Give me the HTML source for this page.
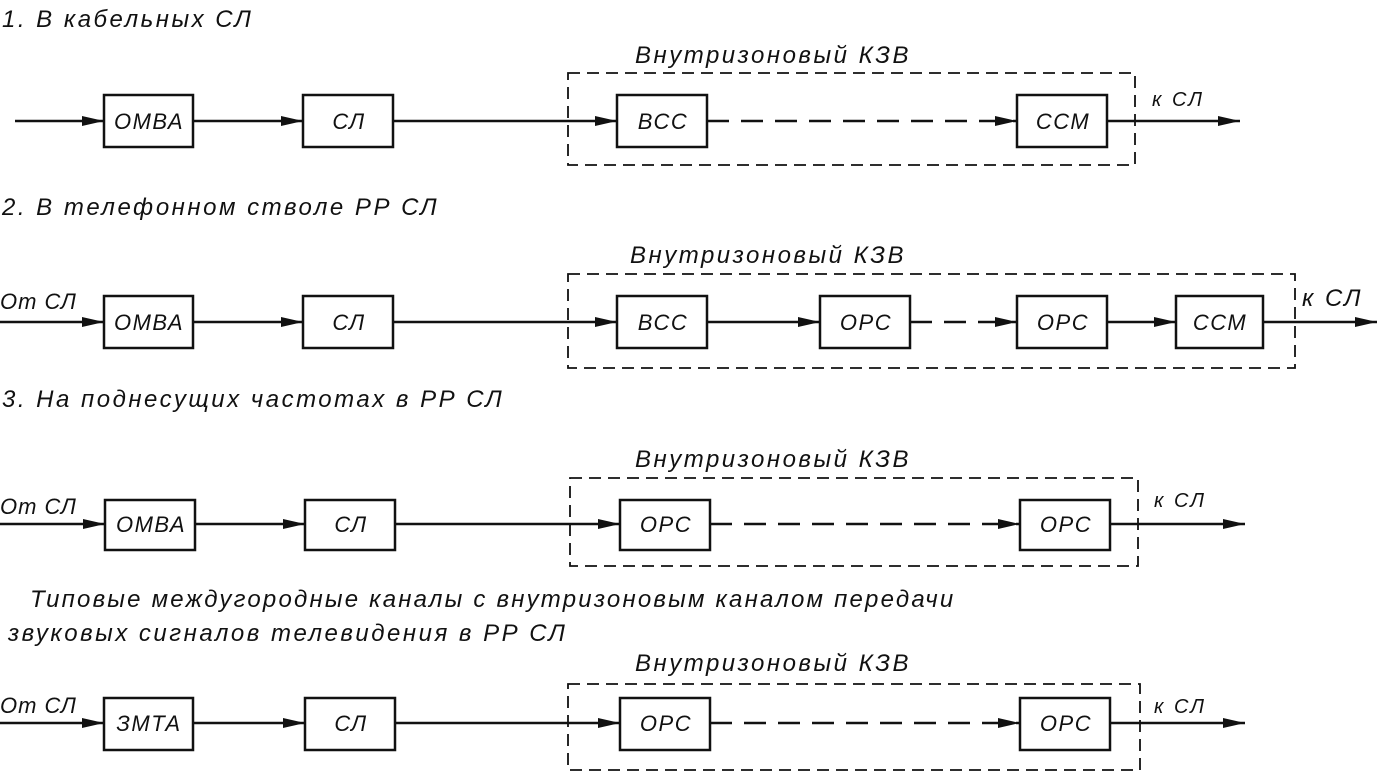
<!DOCTYPE html>
<html><head><meta charset="utf-8"><style>
body{margin:0;background:#fff;}
svg text{font-family:"Liberation Sans","DejaVu Sans",sans-serif;font-style:italic;fill:#111;}
</style></head><body>
<svg width="1377" height="773" viewBox="0 0 1377 773" xmlns="http://www.w3.org/2000/svg">
<defs><marker id="a" markerWidth="22" markerHeight="10" refX="22" refY="5" orient="auto" markerUnits="userSpaceOnUse"><path d="M0,0 L22,5 L0,10 z" fill="#111"/></marker></defs>
<g stroke="#111" stroke-width="2.5" fill="none">
<rect x="568" y="73" width="567" height="92" stroke-dasharray="12,7" stroke-width="1.8"/>
<rect x="104" y="95" width="89" height="52"/><rect x="303" y="95" width="90" height="52"/>
<rect x="617" y="95" width="90" height="52"/><rect x="1017" y="95" width="90" height="52"/>
<line x1="15" y1="121" x2="104" y2="121" marker-end="url(#a)"/>
<line x1="193" y1="121" x2="303" y2="121" marker-end="url(#a)"/>
<line x1="393" y1="121" x2="617" y2="121" marker-end="url(#a)"/>
<line x1="707" y1="121" x2="1017" y2="121" stroke-dasharray="22,12" marker-end="url(#a)"/>
<line x1="1107" y1="121" x2="1240" y2="121" marker-end="url(#a)"/>
<rect x="568" y="274" width="727" height="94" stroke-dasharray="12,7" stroke-width="1.8"/>
<rect x="104" y="296" width="89" height="52"/><rect x="303" y="296" width="90" height="52"/>
<rect x="617" y="296" width="90" height="52"/><rect x="820" y="296" width="90" height="52"/>
<rect x="1017" y="296" width="90" height="52"/><rect x="1176" y="296" width="87" height="52"/>
<line x1="0" y1="322" x2="104" y2="322" marker-end="url(#a)"/>
<line x1="193" y1="322" x2="303" y2="322" marker-end="url(#a)"/>
<line x1="393" y1="322" x2="617" y2="322" marker-end="url(#a)"/>
<line x1="707" y1="322" x2="820" y2="322" marker-end="url(#a)"/>
<line x1="910" y1="322" x2="1017" y2="322" stroke-dasharray="22,12" marker-end="url(#a)"/>
<line x1="1107" y1="322" x2="1176" y2="322" marker-end="url(#a)"/>
<line x1="1263" y1="322" x2="1377" y2="322" marker-end="url(#a)"/>
<rect x="570" y="478" width="568" height="88" stroke-dasharray="12,7" stroke-width="1.8"/>
<rect x="105" y="500" width="90" height="50"/><rect x="305" y="500" width="90" height="50"/>
<rect x="620" y="500" width="90" height="50"/><rect x="1020" y="500" width="90" height="50"/>
<line x1="0" y1="524" x2="105" y2="524" marker-end="url(#a)"/>
<line x1="195" y1="524" x2="305" y2="524" marker-end="url(#a)"/>
<line x1="395" y1="524" x2="620" y2="524" marker-end="url(#a)"/>
<line x1="710" y1="524" x2="1020" y2="524" stroke-dasharray="22,12" marker-end="url(#a)"/>
<line x1="1110" y1="524" x2="1245" y2="524" marker-end="url(#a)"/>
<rect x="568" y="684" width="572" height="86" stroke-dasharray="12,7" stroke-width="1.8"/>
<rect x="104" y="698" width="89" height="52"/><rect x="305" y="698" width="90" height="52"/>
<rect x="620" y="698" width="90" height="52"/><rect x="1020" y="698" width="90" height="52"/>
<line x1="0" y1="723" x2="104" y2="723" marker-end="url(#a)"/>
<line x1="193" y1="723" x2="305" y2="723" marker-end="url(#a)"/>
<line x1="395" y1="723" x2="620" y2="723" marker-end="url(#a)"/>
<line x1="710" y1="723" x2="1020" y2="723" stroke-dasharray="22,12" marker-end="url(#a)"/>
<line x1="1110" y1="723" x2="1245" y2="723" marker-end="url(#a)"/>
</g>
<g font-size="24" letter-spacing="2.5">
<text x="2" y="27">1. В кабельных СЛ</text>
<text x="635" y="63">Внутризоновый КЗВ</text>
<text x="1152" y="106" font-size="20">к СЛ</text>
<text x="2" y="215">2. В телефонном стволе РР СЛ</text>
<text x="630" y="263">Внутризоновый КЗВ</text>
<text x="0" y="309" font-size="22" letter-spacing="1">От СЛ</text>
<text x="1302" y="306">к СЛ</text>
<text x="2" y="407">3. На поднесущих частотах в РР СЛ</text>
<text x="635" y="467">Внутризоновый КЗВ</text>
<text x="0" y="514" font-size="22" letter-spacing="1">От СЛ</text>
<text x="1154" y="507" font-size="20">к СЛ</text>
<text x="30" y="607" letter-spacing="2.2">Типовые междугородные каналы с внутризоновым каналом передачи</text>
<text x="8" y="641">звуковых сигналов телевидения в РР СЛ</text>
<text x="635" y="671">Внутризоновый КЗВ</text>
<text x="0" y="713" font-size="22" letter-spacing="1">От СЛ</text>
<text x="1154" y="713" font-size="20">к СЛ</text>
</g>
<g font-size="22" letter-spacing="1.5" text-anchor="middle">
<text x="149" y="129">ОМВА</text><text x="349" y="129">СЛ</text><text x="663" y="129">ВСС</text><text x="1063" y="129">ССМ</text>
<text x="149" y="330">ОМВА</text><text x="349" y="330">СЛ</text><text x="663" y="330">ВСС</text><text x="866" y="330">ОРС</text><text x="1063" y="330">ОРС</text><text x="1220" y="330">ССМ</text>
<text x="151" y="532">ОМВА</text><text x="351" y="532">СЛ</text><text x="666" y="532">ОРС</text><text x="1066" y="532">ОРС</text>
<text x="149" y="731">ЗМТА</text><text x="351" y="731">СЛ</text><text x="666" y="731">ОРС</text><text x="1066" y="731">ОРС</text>
</g>
</svg>
</body></html>
